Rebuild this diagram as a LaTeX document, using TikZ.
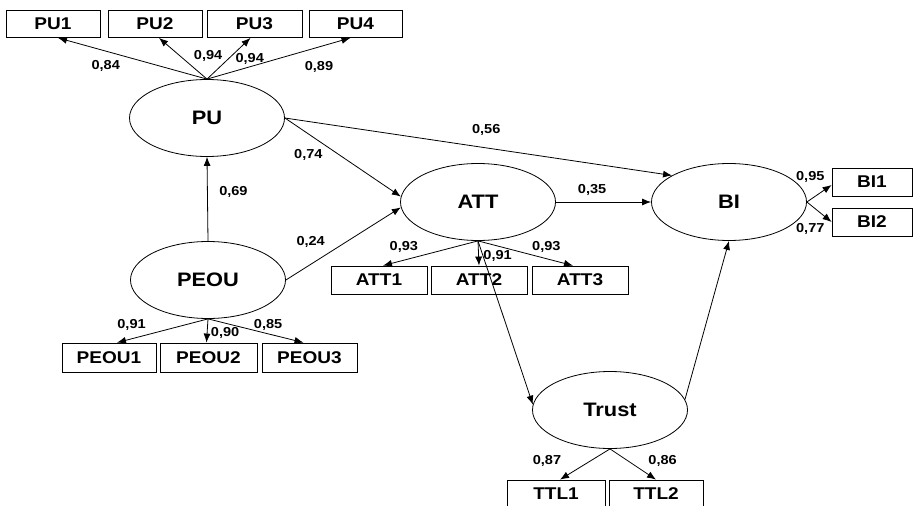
\documentclass[tikz,border=0pt]{standalone}
\usepackage{fontspec}
\setmainfont{Liberation Sans}[FakeStretch=1.12]
\usetikzlibrary{arrows.meta,shapes.geometric,positioning}

\begin{document}
\begin{tikzpicture}[x=1pt,y=-1pt,->,>={Latex[length=9pt,width=7pt]},line width=0.8pt]
\tikzstyle{latent}=[ellipse,draw,minimum width=155pt,minimum height=77pt,inner sep=0pt,font=\fontsize{19.5}{21}\selectfont\bfseries]
\tikzstyle{item}=[rectangle,draw,minimum height=27pt,inner sep=0pt,font=\fontsize{17}{18}\selectfont\bfseries]
\tikzstyle{coef}=[inner sep=0pt,font=\fontsize{13}{14}\selectfont\bfseries]
\useasboundingbox (0,0) rectangle (916,506);
% latent variables
\node[latent] (PU) at (207,118) {PU};
\node[latent] (PEOU) at (208,280) {PEOU};
\node[latent] (ATT) at (478,202) {ATT};
\node[latent] (BI) at (729,202) {BI};
\node[latent] (Trust) at (610,410) {Trust};
% indicators
\node[item,minimum width=94pt] (PU1) at (53,24) {PU1};
\node[item,minimum width=94pt] (PU2) at (155,24) {PU2};
\node[item,minimum width=95pt] (PU3) at (254.5,24) {PU3};
\node[item,minimum width=93pt] (PU4) at (355.5,24) {PU4};
\node[item,minimum width=96pt,minimum height=28pt] (ATT1) at (379,280) {ATT1};
\node[item,minimum width=96pt,minimum height=28pt] (ATT2) at (479,280) {ATT2};
\node[item,minimum width=96pt,minimum height=28pt] (ATT3) at (580,280) {ATT3};
\node[item,minimum width=94pt,minimum height=29pt] (PEOU1) at (109,357.5) {PEOU1};
\node[item,minimum width=97pt,minimum height=29pt] (PEOU2) at (208.5,357.5) {PEOU2};
\node[item,minimum width=95pt,minimum height=29pt] (PEOU3) at (309.5,357.5) {PEOU3};
\node[item,minimum width=80pt,minimum height=28pt] (BI1) at (872,182) {BI1};
\node[item,minimum width=80pt,minimum height=28pt] (BI2) at (872,222) {BI2};
\node[item,minimum width=98pt] (TTL1) at (556,493.5) {TTL1};
\node[item,minimum width=94pt] (TTL2) at (656,493.5) {TTL2};
% loadings
\path (PU.north) edge node[coef,pos=0.68,yshift=-15pt]{0,84} ([xshift=5pt]PU1.south)
                 edge node[coef,pos=0.56,xshift=28pt]{0,94} ([xshift=4pt]PU2.south)
                 edge node[coef,pos=0.5,xshift=21pt]{0,94} ([xshift=-4pt]PU3.south)
                 edge node[coef,pos=0.78,yshift=-20pt]{0,89} ([xshift=-5pt]PU4.south)
      (ATT.south) edge node[coef,pos=0.78,yshift=13pt]{0,93} ([xshift=4pt]ATT1.north)
                  edge node[coef,pos=0.6,xshift=19pt]{0,91} (ATT2.north)
                  edge node[coef,pos=0.72,yshift=12pt]{0,93} ([xshift=-7pt]ATT3.north)
      (PEOU.south) edge node[coef,pos=0.84,yshift=14pt]{0,91} ([xshift=8pt]PEOU1.north)
                   edge node[coef,pos=0.6,xshift=18pt]{0,90} ([xshift=-2pt]PEOU2.north)
                   edge node[coef,pos=0.63,yshift=9pt]{0,85} ([xshift=-6pt]PEOU3.north)
      (BI.east) edge node[coef,pos=0.3,xshift=-4pt,yshift=20pt]{0,95} ([yshift=-3pt]BI1.west)
                edge node[coef,pos=0.3,xshift=-4pt,yshift=-21pt]{0,77} (BI2.west)
      (Trust.south) edge node[coef,pos=0.6,xshift=-33pt,yshift=6pt]{0,87} ([xshift=4pt]TTL1.north)
                    edge node[coef,pos=0.6,xshift=25pt,yshift=6pt]{0,86} (TTL2.north);
% structural paths
\path (PU.east) edge node[coef,pos=0.52,yshift=18pt]{0,56} (BI.155)
                edge node[coef,pos=0.47,xshift=-31pt]{0,74} (ATT.176)
      (PEOU.east) edge node[coef,pos=0.52,xshift=-35pt]{0,24} (ATT.184)
      (PEOU.north) edge node[coef,pos=0.58,xshift=26pt]{0,69} (PU.south)
      (ATT.east) edge node[coef,pos=0.38,yshift=12pt]{0,35} (BI.west)
      (ATT.south) edge (Trust.176)
      (Trust.8) edge (BI.south);
\end{tikzpicture}
\end{document}
